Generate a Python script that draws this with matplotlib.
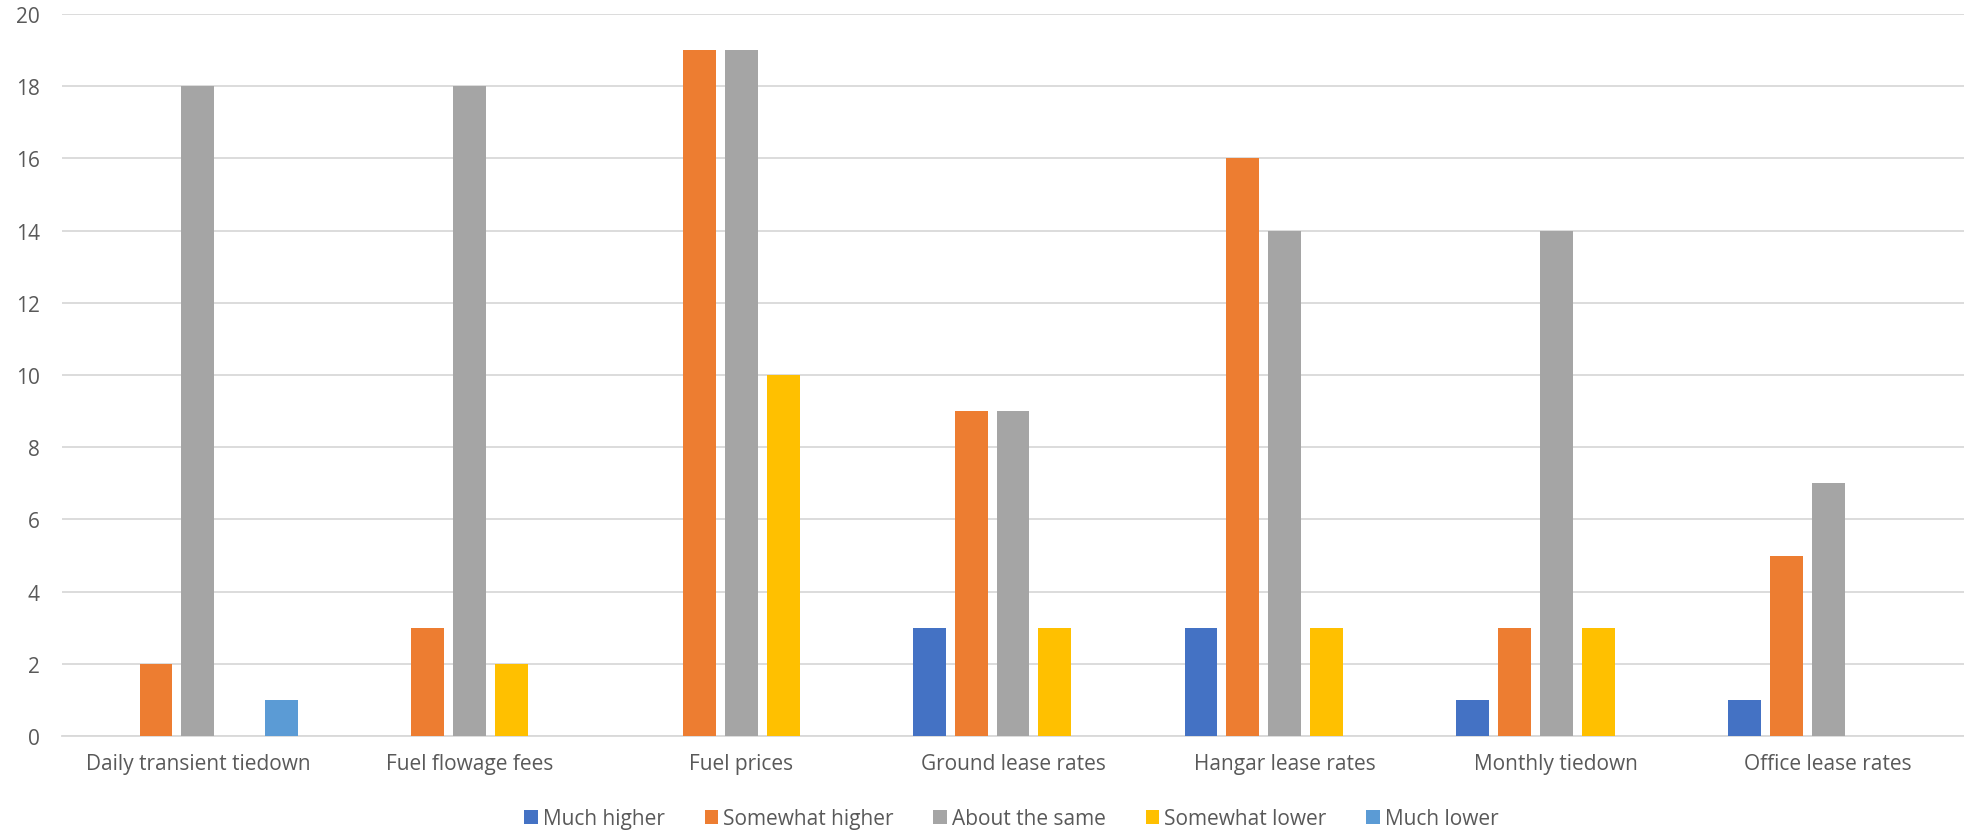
import matplotlib.pyplot as plt
import numpy as np

plt.rcParams['font.family'] = ['Open Sans', 'DejaVu Sans']

# Categories and series values
categories = ["Daily transient tiedown", "Fuel flowage fees", "Fuel prices",
              "Ground lease rates", "Hangar lease rates", "Monthly tiedown",
              "Office lease rates"]
series_names = ["Much higher", "Somewhat higher", "About the same",
                "Somewhat lower", "Much lower"]
much_higher = [0, 0, 0, 3, 3, 1, 1]
somewhat_higher = [2, 3, 19, 9, 16, 3, 5]
about_same = [18, 18, 19, 9, 14, 14, 7]
somewhat_lower = [0, 2, 10, 3, 3, 3, 0]
much_lower = [1, 0, 0, 0, 0, 0, 0]

colors = ["#4472C4", "#ED7D31", "#A5A5A5", "#FFC000", "#5B9BD5"]
text_color = "#595959"

fig = plt.figure(figsize=(19.64, 8.37), dpi=100)
ax = fig.add_axes([62 / 1964, 1 - 737 / 837, 1 - 62 / 1964, 722 / 837])

x = np.arange(len(categories))
step = 0.154
width = 0.121
all_series = [much_higher, somewhat_higher, about_same, somewhat_lower, much_lower]
for i, (name, vals) in enumerate(zip(series_names, all_series)):
    ax.bar(x + (i - 2) * step, vals, width=width, color=colors[i], label=name, zorder=3)

ax.set_xlim(-0.5, len(categories) - 0.5)
ax.set_ylim(0, 20)
ax.set_yticks(range(0, 21, 2))
ax.set_xticks(x)
ax.set_xticklabels(categories)
ax.yaxis.grid(True, color="#D9D9D9", linewidth=1.3, zorder=0)
ax.tick_params(axis='both', length=0, labelsize=15, colors=text_color)
ax.tick_params(axis='x', pad=12)
ax.tick_params(axis='y', pad=16)
for side in ["top", "right", "left"]:
    ax.spines[side].set_visible(False)
ax.spines["bottom"].set_color("#D9D9D9")
ax.spines["bottom"].set_linewidth(1.3)

leg = fig.legend(loc="center", bbox_to_anchor=(0.515, 1 - 820 / 837), ncol=5,
                 frameon=False, fontsize=15, handlelength=0.65, handleheight=0.65,
                 handletextpad=0.25, columnspacing=1.9)
for t in leg.get_texts():
    t.set_color(text_color)

fig.savefig("out.png", dpi=100)
